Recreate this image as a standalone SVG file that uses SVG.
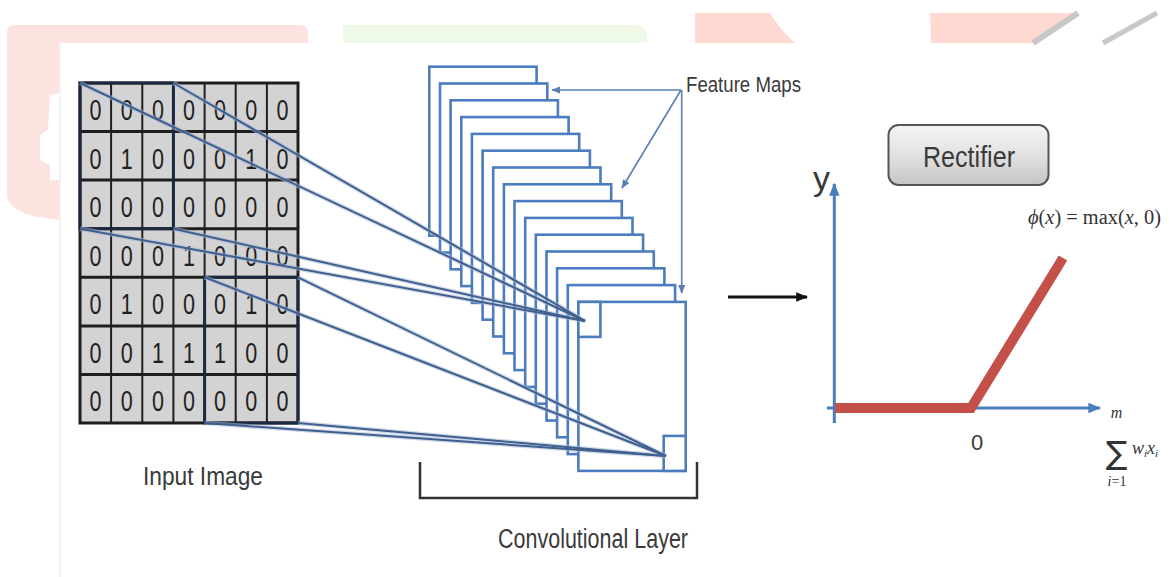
<svg xmlns="http://www.w3.org/2000/svg" width="1175" height="577" viewBox="0 0 1175 577">
<style>
.cell{fill:#d3d3d3;stroke:none}
.vl{stroke:#1e1e1e;stroke-width:2}
.hl{stroke:#1e1e1e;stroke-width:3}
.win{fill:none;stroke:#1b2940;stroke-width:3}
.dg{font-family:"Liberation Sans",Arial,sans-serif;font-size:29px;fill:#1f1f1f;text-anchor:middle}
.fm{fill:#ffffff;stroke:#4a7cbf;stroke-width:2.6}
.lbl{font-family:"Liberation Sans",Arial,sans-serif;fill:#3a3a3a}
.conn{stroke:#3f5f8f;stroke-width:2;fill:none}
.halo{stroke:#a9bbd6;stroke-width:4.5;fill:none;opacity:0.55}
.fmarrow{stroke:#5a7fb5;stroke-width:1.6;fill:none;marker-end:url(#mFM)}
.axis{stroke:#4a7ebb;stroke-width:3;fill:none;marker-end:url(#mAxis)}
.math{font-family:"Liberation Serif","Times New Roman",serif;fill:#333}
</style>
<defs>
<marker id="mFM" viewBox="0 0 10 10" refX="9" refY="5" markerWidth="9" markerHeight="9" markerUnits="userSpaceOnUse" orient="auto"><path d="M0,1 L10,5 L0,9 z" fill="#5a7fb5"/></marker>
<marker id="mAxis" viewBox="0 0 10 10" refX="9" refY="5" markerWidth="13" markerHeight="13" markerUnits="userSpaceOnUse" orient="auto"><path d="M0,1 L10,5 L0,9 z" fill="#4a7ebb"/></marker>
<marker id="mBlack" viewBox="0 0 10 10" refX="9" refY="5" markerWidth="12" markerHeight="12" markerUnits="userSpaceOnUse" orient="auto"><path d="M0,1 L10,5 L0,9 z" fill="#111"/></marker>
<linearGradient id="gBtn" x1="0" y1="0" x2="0" y2="1"><stop offset="0" stop-color="#f4f4f4"/><stop offset="0.5" stop-color="#e2e2e2"/><stop offset="1" stop-color="#c4c4c4"/></linearGradient>
</defs>

<g id="background">
<path d="M7,33 Q7,25 15,25 L300,25 Q308,25 308,33 L308,43 L60,43 L60,93 L50,95 L48,130 L40,135 L40,160 L50,165 L50,180 L60,180 L60,220 L32,216 Q7,208 7,195 Z" fill="#fde3e0"/>
<path d="M343,43 L343,25 L638,25 Q647,27 647,36 L647,43 Z" fill="#eff9e7"/>
<path d="M695,13 L770,13 Q780,30 795,43 L695,43 Z" fill="#fdd9d2"/>
<path d="M930,13 L1078,13 L1033,43 L931,43 Z" fill="#fdd9d2"/>
<line x1="1078" y1="13" x2="1033" y2="43" stroke="#c8c8c8" stroke-width="6"/>
<line x1="1157" y1="13" x2="1103" y2="43" stroke="#c8c8c8" stroke-width="5"/>
<line x1="60" y1="43" x2="60" y2="577" stroke="#f0f0f0" stroke-width="1.5"/>
</g>

<g id="input-image">
<rect class="cell" x="80" y="83" width="218" height="340"/>
<g>
<line class="vl" x1="111.1" y1="83" x2="111.1" y2="423"/>
<line class="vl" x1="142.3" y1="83" x2="142.3" y2="423"/>
<line class="vl" x1="173.4" y1="83" x2="173.4" y2="423"/>
<line class="vl" x1="204.6" y1="83" x2="204.6" y2="423"/>
<line class="vl" x1="235.7" y1="83" x2="235.7" y2="423"/>
<line class="vl" x1="266.9" y1="83" x2="266.9" y2="423"/>
<line class="hl" x1="80" y1="131.6" x2="298" y2="131.6"/>
<line class="hl" x1="80" y1="180.1" x2="298" y2="180.1"/>
<line class="hl" x1="80" y1="228.7" x2="298" y2="228.7"/>
<line class="hl" x1="80" y1="277.3" x2="298" y2="277.3"/>
<line class="hl" x1="80" y1="325.9" x2="298" y2="325.9"/>
<line class="hl" x1="80" y1="374.4" x2="298" y2="374.4"/>
<rect x="80" y="83" width="218" height="340" fill="none" stroke="#1e1e1e" stroke-width="3"/>
<rect class="win" x="80" y="83" width="93.4" height="145.7"/>
<rect class="win" x="204.6" y="277.3" width="93.4" height="145.7"/>
</g>
<g class="dg">
<text x="95.6" y="120" textLength="12" lengthAdjust="spacingAndGlyphs">0</text><text x="126.7" y="120" textLength="12" lengthAdjust="spacingAndGlyphs">0</text><text x="157.9" y="120" textLength="12" lengthAdjust="spacingAndGlyphs">0</text><text x="189" y="120" textLength="12" lengthAdjust="spacingAndGlyphs">0</text><text x="220.1" y="120" textLength="12" lengthAdjust="spacingAndGlyphs">0</text><text x="251.3" y="120" textLength="12" lengthAdjust="spacingAndGlyphs">0</text><text x="282.4" y="120" textLength="12" lengthAdjust="spacingAndGlyphs">0</text>
<text x="95.6" y="168.6" textLength="12" lengthAdjust="spacingAndGlyphs">0</text><text x="126.7" y="168.6" textLength="12" lengthAdjust="spacingAndGlyphs">1</text><text x="157.9" y="168.6" textLength="12" lengthAdjust="spacingAndGlyphs">0</text><text x="189" y="168.6" textLength="12" lengthAdjust="spacingAndGlyphs">0</text><text x="220.1" y="168.6" textLength="12" lengthAdjust="spacingAndGlyphs">0</text><text x="251.3" y="168.6" textLength="12" lengthAdjust="spacingAndGlyphs">1</text><text x="282.4" y="168.6" textLength="12" lengthAdjust="spacingAndGlyphs">0</text>
<text x="95.6" y="217.1" textLength="12" lengthAdjust="spacingAndGlyphs">0</text><text x="126.7" y="217.1" textLength="12" lengthAdjust="spacingAndGlyphs">0</text><text x="157.9" y="217.1" textLength="12" lengthAdjust="spacingAndGlyphs">0</text><text x="189" y="217.1" textLength="12" lengthAdjust="spacingAndGlyphs">0</text><text x="220.1" y="217.1" textLength="12" lengthAdjust="spacingAndGlyphs">0</text><text x="251.3" y="217.1" textLength="12" lengthAdjust="spacingAndGlyphs">0</text><text x="282.4" y="217.1" textLength="12" lengthAdjust="spacingAndGlyphs">0</text>
<text x="95.6" y="265.7" textLength="12" lengthAdjust="spacingAndGlyphs">0</text><text x="126.7" y="265.7" textLength="12" lengthAdjust="spacingAndGlyphs">0</text><text x="157.9" y="265.7" textLength="12" lengthAdjust="spacingAndGlyphs">0</text><text x="189" y="265.7" textLength="12" lengthAdjust="spacingAndGlyphs">1</text><text x="220.1" y="265.7" textLength="12" lengthAdjust="spacingAndGlyphs">0</text><text x="251.3" y="265.7" textLength="12" lengthAdjust="spacingAndGlyphs">0</text><text x="282.4" y="265.7" textLength="12" lengthAdjust="spacingAndGlyphs">0</text>
<text x="95.6" y="314.3" textLength="12" lengthAdjust="spacingAndGlyphs">0</text><text x="126.7" y="314.3" textLength="12" lengthAdjust="spacingAndGlyphs">1</text><text x="157.9" y="314.3" textLength="12" lengthAdjust="spacingAndGlyphs">0</text><text x="189" y="314.3" textLength="12" lengthAdjust="spacingAndGlyphs">0</text><text x="220.1" y="314.3" textLength="12" lengthAdjust="spacingAndGlyphs">0</text><text x="251.3" y="314.3" textLength="12" lengthAdjust="spacingAndGlyphs">1</text><text x="282.4" y="314.3" textLength="12" lengthAdjust="spacingAndGlyphs">0</text>
<text x="95.6" y="362.9" textLength="12" lengthAdjust="spacingAndGlyphs">0</text><text x="126.7" y="362.9" textLength="12" lengthAdjust="spacingAndGlyphs">0</text><text x="157.9" y="362.9" textLength="12" lengthAdjust="spacingAndGlyphs">1</text><text x="189" y="362.9" textLength="12" lengthAdjust="spacingAndGlyphs">1</text><text x="220.1" y="362.9" textLength="12" lengthAdjust="spacingAndGlyphs">1</text><text x="251.3" y="362.9" textLength="12" lengthAdjust="spacingAndGlyphs">0</text><text x="282.4" y="362.9" textLength="12" lengthAdjust="spacingAndGlyphs">0</text>
<text x="95.6" y="411.4" textLength="12" lengthAdjust="spacingAndGlyphs">0</text><text x="126.7" y="411.4" textLength="12" lengthAdjust="spacingAndGlyphs">0</text><text x="157.9" y="411.4" textLength="12" lengthAdjust="spacingAndGlyphs">0</text><text x="189" y="411.4" textLength="12" lengthAdjust="spacingAndGlyphs">0</text><text x="220.1" y="411.4" textLength="12" lengthAdjust="spacingAndGlyphs">0</text><text x="251.3" y="411.4" textLength="12" lengthAdjust="spacingAndGlyphs">0</text><text x="282.4" y="411.4" textLength="12" lengthAdjust="spacingAndGlyphs">0</text>
</g>
<text class="lbl" x="143" y="485" font-size="26" textLength="120" lengthAdjust="spacingAndGlyphs">Input Image</text>
</g>

<g id="feature-maps">
<rect class="fm" x="429.3" y="66.7" width="107.3" height="169"/>
<rect class="fm" x="440.0" y="83.5" width="107.3" height="169"/>
<rect class="fm" x="450.6" y="100.3" width="107.3" height="169"/>
<rect class="fm" x="461.3" y="117.1" width="107.3" height="169"/>
<rect class="fm" x="471.9" y="133.9" width="107.3" height="169"/>
<rect class="fm" x="482.6" y="150.7" width="107.3" height="169"/>
<rect class="fm" x="493.2" y="167.5" width="107.3" height="169"/>
<rect class="fm" x="503.9" y="184.3" width="107.3" height="169"/>
<rect class="fm" x="514.5" y="201.1" width="107.3" height="169"/>
<rect class="fm" x="525.2" y="217.9" width="107.3" height="169"/>
<rect class="fm" x="535.8" y="234.7" width="107.3" height="169"/>
<rect class="fm" x="546.5" y="251.5" width="107.3" height="169"/>
<rect class="fm" x="557.1" y="268.3" width="107.3" height="169"/>
<rect class="fm" x="567.8" y="285.1" width="107.3" height="169"/>
<rect class="fm" x="578.4" y="301.9" width="107.3" height="169"/>
<rect class="fm" x="578.4" y="301.9" width="22" height="35"/>
<rect class="fm" x="663.7" y="435.9" width="22" height="35"/>
</g>

<g id="connectors">
<g class="halo">
<line x1="80" y1="83" x2="585" y2="321"/>
<line x1="173.4" y1="83" x2="585" y2="321"/>
<line x1="80" y1="228.7" x2="585" y2="321"/>
<line x1="173.4" y1="228.7" x2="585" y2="321"/>
<line x1="204.6" y1="277.3" x2="666" y2="456"/>
<line x1="298" y1="277.3" x2="666" y2="456"/>
<line x1="204.6" y1="423" x2="666" y2="456"/>
<line x1="298" y1="423" x2="666" y2="456"/>
</g>
<g class="conn">
<line x1="80" y1="83" x2="585" y2="321"/>
<line x1="173.4" y1="83" x2="585" y2="321"/>
<line x1="80" y1="228.7" x2="585" y2="321"/>
<line x1="173.4" y1="228.7" x2="585" y2="321"/>
<line x1="204.6" y1="277.3" x2="666" y2="456"/>
<line x1="298" y1="277.3" x2="666" y2="456"/>
<line x1="204.6" y1="423" x2="666" y2="456"/>
<line x1="298" y1="423" x2="666" y2="456"/>
</g>
<g id="feature-maps-arrows">
<line class="fmarrow" x1="681" y1="90" x2="552" y2="90"/>
<line class="fmarrow" x1="681" y1="90" x2="622" y2="188"/>
<line class="fmarrow" x1="681.7" y1="90" x2="681.7" y2="293"/>
</g>
<line x1="728" y1="297" x2="807" y2="297" stroke="#111" stroke-width="3" marker-end="url(#mBlack)"/>
</g>

<g id="feature-maps-label">
<text class="lbl" x="686" y="92" font-size="22" textLength="115" lengthAdjust="spacingAndGlyphs">Feature Maps</text>
</g>

<g id="convolutional-layer">
<path d="M420,462 L420,498 L697,498 L697,462" fill="none" stroke="#333" stroke-width="2.5"/>
<text class="lbl" x="498" y="548" font-size="27" textLength="190" lengthAdjust="spacingAndGlyphs">Convolutional Layer</text>
</g>

<g id="rectifier">
<rect x="888.5" y="125" width="160" height="60" rx="10" ry="10" fill="url(#gBtn)" stroke="#555" stroke-width="2"/>
<text class="lbl" x="923" y="166.5" font-size="30" fill="#333" textLength="92" lengthAdjust="spacingAndGlyphs">Rectifier</text>
</g>

<g id="relu-graph">
<line class="axis" x1="834.3" y1="423" x2="834.3" y2="184"/>
<line class="axis" x1="827" y1="408" x2="1100" y2="408"/>
<polyline points="835,408 971,408 1063,258" fill="none" stroke="#c4504a" stroke-width="10" stroke-linejoin="miter"/>
<text class="lbl" x="813" y="190" font-size="34" fill="#333" textLength="17" lengthAdjust="spacingAndGlyphs">y</text>
<text class="lbl" x="977" y="450" font-size="22" fill="#333" text-anchor="middle">0</text>
<text class="math" x="1028" y="224" font-size="20" textLength="133" lengthAdjust="spacingAndGlyphs"><tspan font-style="italic">ϕ</tspan>(<tspan font-style="italic">x</tspan>) = max(<tspan font-style="italic">x</tspan>, 0)</text>
<text x="1116.5" y="464" font-family="'DejaVu Sans',sans-serif" font-size="32" fill="#333" text-anchor="middle">∑</text>
<text class="math" x="1116.5" y="418" font-size="16" font-style="italic" text-anchor="middle">m</text>
<text class="math" x="1117" y="486" font-size="14" text-anchor="middle"><tspan font-style="italic">i</tspan>=1</text>
<text class="math" x="1132" y="454" font-size="18" font-style="italic">w<tspan font-size="11" dy="3">i</tspan><tspan dy="-3">x</tspan><tspan font-size="11" dy="3">i</tspan></text>
</g>
</svg>
